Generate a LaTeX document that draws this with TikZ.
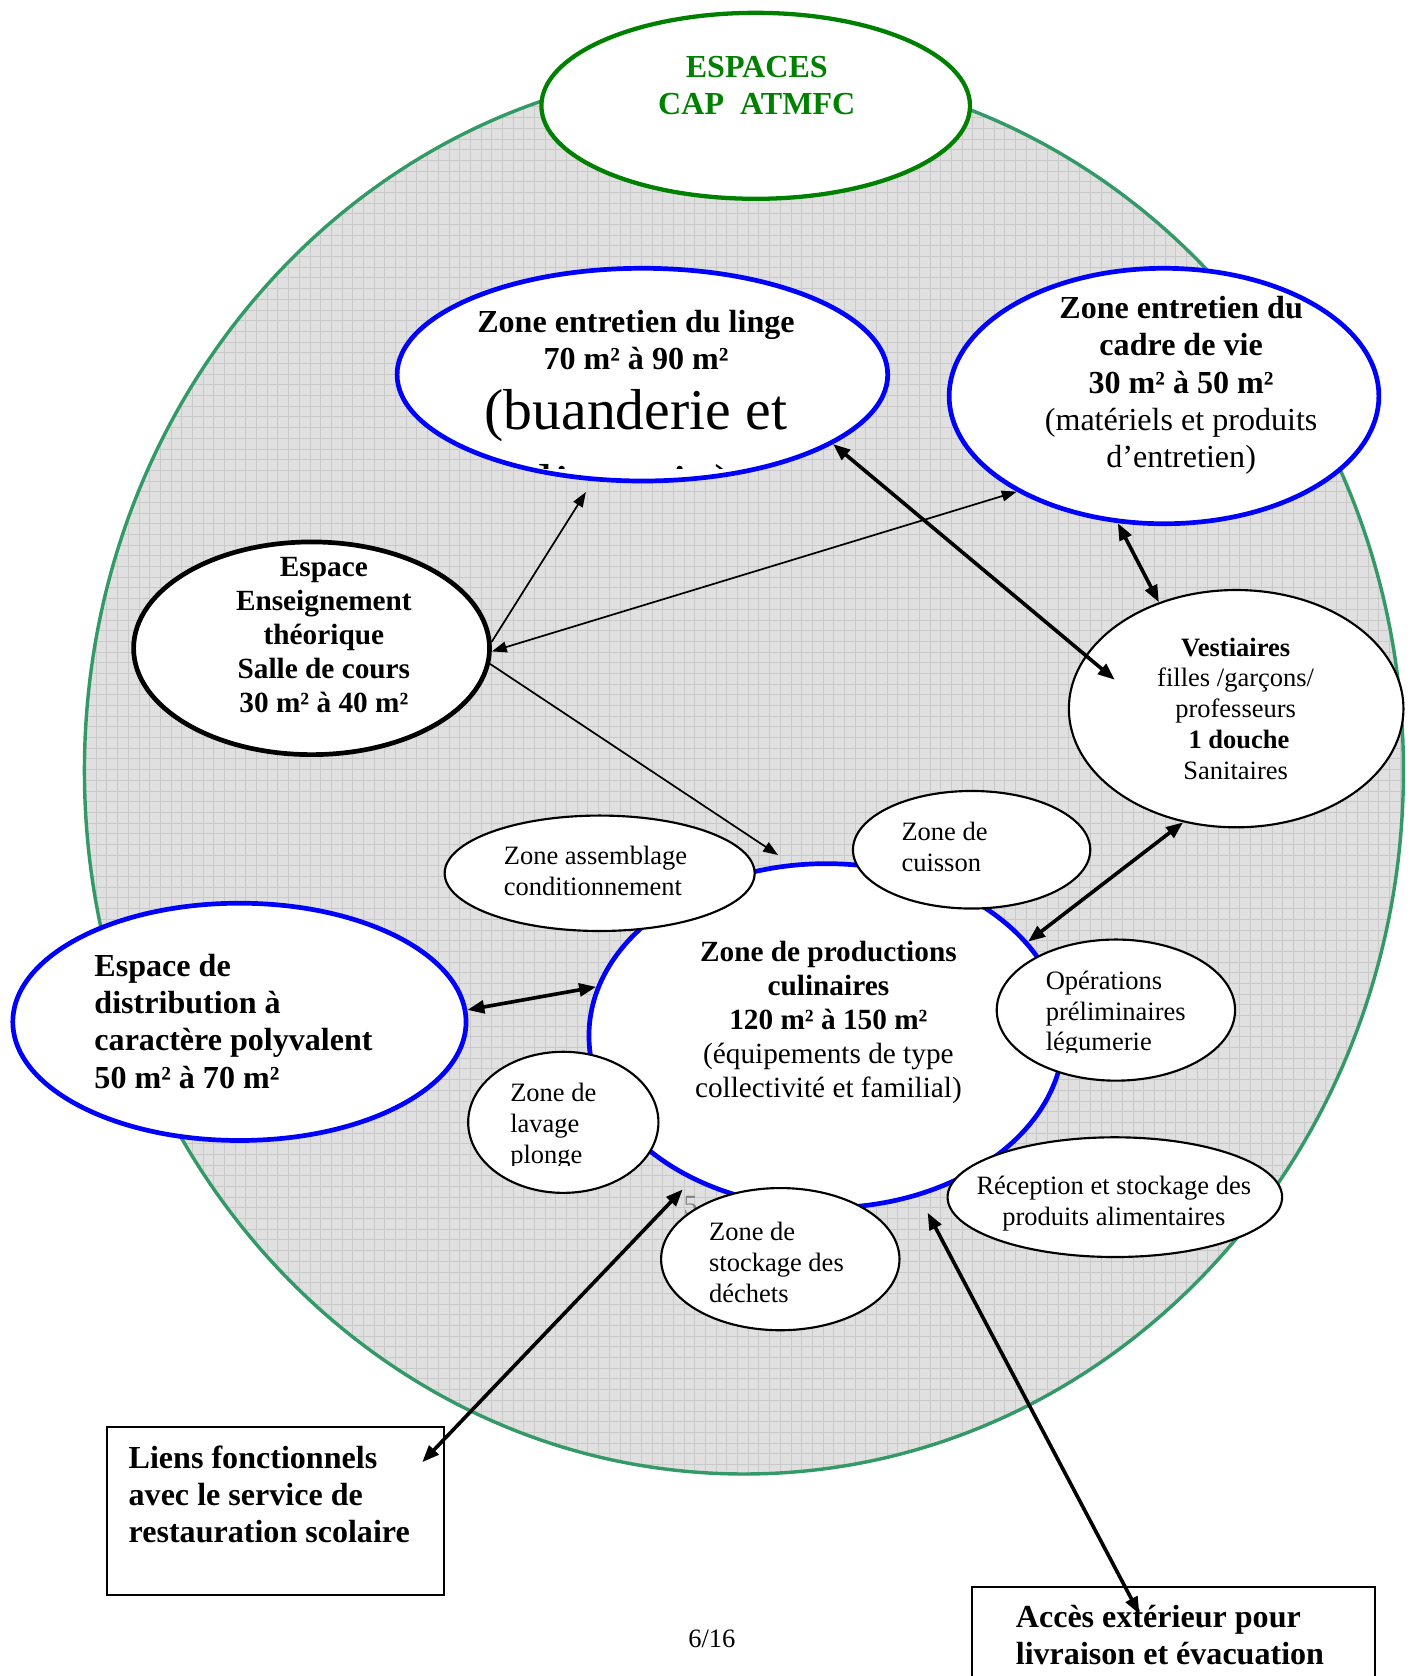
\documentclass[tikz,border=0pt]{standalone}
\usepackage{fontspec}
\setmainfont{Liberation Serif}
\usetikzlibrary{shapes.geometric,arrows.meta}
\definecolor{zoneblue}{RGB}{0,0,255}
\definecolor{outergreen}{RGB}{51,153,102}
\definecolor{titlegreen}{RGB}{0,128,0}

\begin{document}
\begin{tikzpicture}[x=0.5pt, y=-0.5pt,
    every node/.style={inner sep=0pt},
    zone/.style={ellipse, draw, fill=white, line width=1pt},
    bluezone/.style={zone, draw=zoneblue, line width=2.2pt},
    fbig/.style={font=\fontsize{15}{17.4}\selectfont},
    fbigb/.style={font=\fontsize{15}{17.4}\selectfont\bfseries},
    fmid/.style={font=\fontsize{13.7}{15.9}\selectfont\bfseries, align=center},
    fsmall/.style={font=\fontsize{12.4}{14.4}\selectfont, align=left},
    cadrebox/.style={rectangle, draw, fill=white, line width=1pt},
    thinlink/.style={line width=0.8pt, >={Triangle[length=7pt,width=5pt]}},
    thicklink/.style={line width=1.7pt, >={Triangle[length=8pt,width=6pt]}}]
  \useasboundingbox (0,0) rectangle (1323,1568);

  % fond quadrille
  \fill[black!12] (696,721) ellipse [x radius=618, y radius=659];
  \begin{scope}
    \clip (696,721) ellipse [x radius=618, y radius=659];
    \draw[black!21, line width=0.4pt, step=5pt] (0,1568) grid (1323,0);
  \end{scope}
  \draw[outergreen, line width=1.6pt] (696,721) ellipse [x radius=617, y radius=658];

  % zones
  \node[zone, draw=titlegreen, line width=2pt, minimum width=200.5pt, minimum height=87pt] (espaces) at (707,99) {};
  \node[bluezone, minimum width=229.5pt, minimum height=99.5pt] (linge) at (601,350.5) {};
  \node[bluezone, minimum width=201pt, minimum height=119.5pt] (cadre) at (1089,370.5) {};
  \node[zone, line width=2.2pt, minimum width=166.5pt, minimum height=99.5pt] (ens) at (291.5,606.5) {};
  \node[zone, minimum width=156.5pt, minimum height=111pt] (vest) at (1156.5,663) {};
  \node[bluezone, minimum width=222pt, minimum height=161pt] (prod) at (773,969) {};
  \node[font=\fontsize{13}{15}\selectfont, text=black!50] (five) at (646,1128) {5};
  \node[zone, minimum width=145pt, minimum height=54pt] (assemblage) at (561,817) {};
  \node[zone, minimum width=111pt, minimum height=55pt] (cuisson) at (909,795) {};
  \node[zone, minimum width=111.5pt, minimum height=66pt] (operations) at (1044,945) {};
  \node[zone, minimum width=156.5pt, minimum height=56pt] (reception) at (1043,1120) {};
  \node[zone, minimum width=111.5pt, minimum height=66.5pt] (dechets) at (730,1178) {};
  \node[zone, minimum width=89pt, minimum height=66pt] (lavage) at (527,1050) {};
  \node[bluezone, minimum width=212pt, minimum height=111pt] (dist) at (224,956) {};
  \node[cadrebox, minimum width=157.5pt, minimum height=78.5pt] (liens) at (257.5,1413.5) {};
  \node[cadrebox, minimum width=188.5pt, minimum height=67.5pt] (acces) at (1097.5,1552.5) {};

  % textes
  \node[fbigb, text=titlegreen, align=center] (espacestxt) at (708,80) {ESPACES\\CAP\ \ ATMFC};
  \node[fbigb, align=center] (lingetxt) at (595,318) {Zone entretien du linge\\70 m² à 90 m²};
  \node[font=\fontsize{27}{31}\selectfont, anchor=base] (lingebig) at (595,402) {(buanderie et};
  \begin{scope}
    \clip (360,240) rectangle (845,438);
    \node[font=\fontsize{27}{31}\selectfont, anchor=base] (lingecut) at (595,472) {lingerie)};
  \end{scope}
  \node[fbig, align=center] (cadretxt) at (1105,360.5)
    {\textbf{Zone entretien du}\\\textbf{cadre de vie}\\\textbf{30 m² à 50 m²}\\(matériels et produits\\d’entretien)};
  \node[fmid] (enstxt) at (303,594.5) {Espace\\Enseignement\\théorique\\Salle de cours\\30 m² à 40 m²};
  \node[fsmall, align=center] (vesttxt) at (1156,663)
    {\textbf{Vestiaires}\\filles /garçons/\\professeurs\\~\textbf{1 douche}\\Sanitaires};
  \node[fmid] (prodtxt) at (775,956.5)
    {Zone de productions\\culinaires\\120 m² à 150 m²\\\mdseries(équipements de type\\\mdseries collectivité et familial)};
  \node[fbigb, align=left, anchor=west] (disttxt) at (88,955.5)
    {Espace de\\distribution à\\caractère polyvalent\\50 m² à 70 m²};
  \node[fsmall, anchor=west] (asstxt) at (471,814.5) {Zone assemblage\\conditionnement};
  \node[fsmall, anchor=west] (cuistxt) at (843,792) {Zone de\\cuisson};
  \begin{scope}
    \clip (940,890) rectangle (1150,985);
    \node[fsmall, anchor=west] (opertxt) at (978,948.5) {Opérations\\préliminaires\\légumerie};
  \end{scope}
  \node[fsmall, align=center] (recepttxt) at (1042,1126) {Réception et stockage des\\produits alimentaires};
  \node[fsmall, anchor=west] (dechtxt) at (663,1181) {Zone de\\stockage des\\déchets};
  \begin{scope}
    \clip (440,990) rectangle (615,1090);
    \node[fsmall, anchor=west] (lavtxt) at (477,1053.5) {Zone de\\lavage\\plonge};
  \end{scope}
  \node[fbigb, align=left, anchor=west] (lienstxt) at (120,1398)
    {Liens fonctionnels\\avec le service de\\restauration scolaire};
  \node[fbigb, align=left, anchor=west] (accestxt) at (950,1529.5)
    {Accès extérieur pour\\livraison et évacuation};
  \node[font=\fontsize{12.4}{14.4}\selectfont] (page) at (666,1533) {6/16};

  % liens
  \coordinate (prodtop) at (728,800);
  \coordinate (vestin) at (1043,636);
  \coordinate (lienstip) at (395,1368);
  \coordinate (accestip) at (1066,1510);
  \draw[thinlink, ->, shorten >=6pt] (ens.2) -- (linge.245);
  \draw[thinlink, <->] (ens.-1) -- (cadre.213);
  \draw[thinlink, ->] (ens.-5) -- (prodtop);
  \draw[thicklink, <->] (linge.-20) -- (vestin);
  \draw[thicklink, <->] (cadre.-110) -- (vest.126);
  \draw[thicklink, <->] (vest.-115) -- (prod.25);
  \draw[thicklink, <->] (dist.3) -- (prod.168);
  \draw[thicklink, <->, shorten >=6pt] (lienstip) -- (prod.227);
  \draw[thicklink, <->, shorten >=8.5pt] (accestip) -- (prod.-60);
\end{tikzpicture}
\end{document}
